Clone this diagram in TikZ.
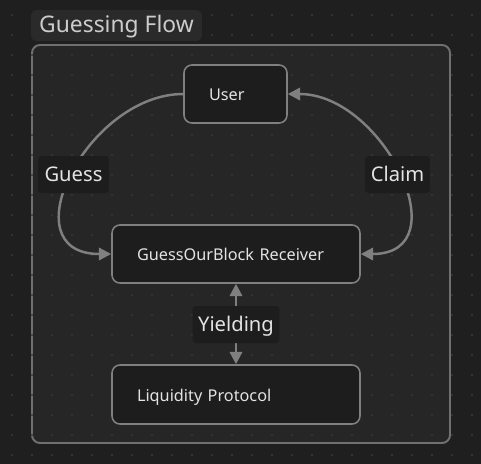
\documentclass[tikz,border=0pt]{standalone}
\usepackage{fontspec}
\setmainfont{Noto Sans}
\usetikzlibrary{arrows.meta}
\definecolor{bgdark}{HTML}{1F1F1F}
\definecolor{groupfill}{HTML}{262626}
\definecolor{groupline}{HTML}{707070}
\definecolor{titlefill}{HTML}{2A2A2A}
\definecolor{boxfill}{HTML}{1D1D1D}
\definecolor{edgegray}{HTML}{808080}
\definecolor{textlight}{HTML}{E3E3E3}
\definecolor{gridtone}{HTML}{393939}
\tikzset{
	block/.style={draw=edgegray, fill=boxfill, line width=0.9pt, rounded corners=4.5pt, text=textlight, font=\fontsize{9.25}{11}\selectfont, align=left, inner xsep=0.5cm, inner ysep=0pt, text height=1.45ex, text depth=0.05ex},
	flowlabel/.style={fill=boxfill, rounded corners=2pt, text=textlight, font=\fontsize{11.5}{13}\selectfont, inner sep=0pt, text height=1.6ex, text depth=0.1ex},
	flowarrow/.style={draw=edgegray, line width=1.4pt, -{Triangle[length=7pt,width=7pt]}},
	flowboth/.style={flowarrow, {Triangle[length=7pt,width=7pt]}-{Triangle[length=7pt,width=7pt]}},
}
\begin{document}
\begin{tikzpicture}[x=0.02cm, y=-0.02cm]
		\fill[bgdark] (0,0) rectangle (481,464);
		\useasboundingbox (0,0) rectangle (481,464);
		% group frame
		\draw[draw=groupline, fill=groupfill, line width=1.1pt, rounded corners=4.5pt] (32,45) rectangle (450,443);
		\foreach \gx in {12,32,...,472}
			\foreach \gy in {15,35,...,455}
				\fill[gridtone] (\gx,\gy) circle (0.6pt);
		\node[fill=titlefill, rounded corners=3pt, text=textlight!90!black, font=\fontsize{13}{15}\selectfont, minimum width=3.42cm, minimum height=0.62cm, inner sep=0pt, text height=1.6ex, text depth=0.1ex] (title) at (116.5,25.5) {Guessing Flow};
		% nodes
		\node[block, text width=1.06cm, minimum height=1.16cm] (user) at (235.5,94) {User};
		\node[block, text width=3.96cm, minimum height=1.16cm] (recv) at (236,254) {GuessOurBlock Receiver};
		\node[block, text width=3.96cm, minimum height=1.18cm] (liq) at (236,394.5) {Liquidity Protocol};
		% connectors
		\draw[flowarrow] (user.west) .. controls +(-96,0) and +(-104,0) .. (recv.west);
		\draw[flowboth] (user.east) .. controls +(96,0) and +(100,0) .. (recv.east);
		\draw[flowboth] (recv.south) -- (liq.north);
		\node[flowlabel, minimum width=1.42cm, minimum height=0.74cm] (guess) at (73.5,174.5) {Guess};
		\node[flowlabel, minimum width=1.30cm, minimum height=0.74cm] (claim) at (397.5,174.5) {Claim};
		\node[flowlabel, minimum width=1.74cm, minimum height=0.74cm] (yield) at (236,324.5) {Yielding};
	\end{tikzpicture}
\end{document}
